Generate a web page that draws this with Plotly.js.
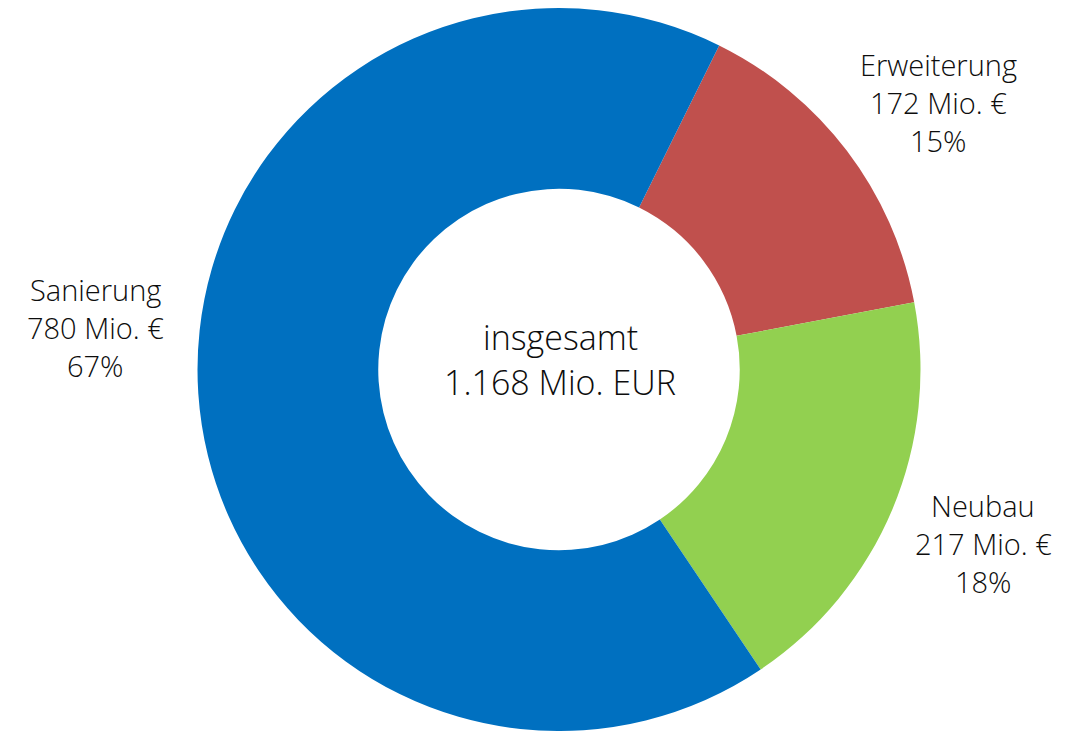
<!DOCTYPE html>
<html>
<head>
<meta charset="utf-8">
<script src="https://cdn.plot.ly/plotly-3.0.1.min.js"></script>
<style>html,body{margin:0;padding:0;background:#fff;}#chart{width:1068px;height:731px;}</style>
</head>
<body>
<div id="chart"></div>
<script>
const categories = ["Erweiterung", "Neubau", "Sanierung"];
const values = [172, 217, 780];
const valueLabels = ["172 Mio. €", "217 Mio. €", "780 Mio. €"];
const percentLabels = ["15%", "18%", "67%"];
const colors = ["#C0504D", "#92D050", "#0070C0"];
const centerLines = ["insgesamt", "1.168 Mio. EUR"];

const W = 1068, H = 731;
const FONT = "Open Sans, Noto Sans, sans-serif";
const px = x => x / W;
const py = y => 1 - y / H;

// label line positions (pixel centres) for each category
const labelPos = {
  "Erweiterung": {x: 938, ys: [64, 102, 140]},
  "Neubau": {x: 983, ys: [505, 543, 581]},
  "Sanierung": {x: 95, ys: [289, 327, 365]}
};

const annotations = [];
categories.forEach((c, i) => {
  const p = labelPos[c];
  [c, valueLabels[i], percentLabels[i]].forEach((t, k) => {
    annotations.push({
      text: t, xref: "paper", yref: "paper",
      x: px(p.x), y: py(p.ys[k]), xanchor: "center", yanchor: "middle",
      showarrow: false, borderpad: 0,
      font: {family: FONT, size: 29, weight: 300, color: "#0d0d0d"}
    });
  });
});
const centerYs = [337, 382];
centerLines.forEach((t, k) => {
  annotations.push({
    text: t, xref: "paper", yref: "paper",
    x: px(560), y: py(centerYs[k]), xanchor: "center", yanchor: "middle",
    showarrow: false, borderpad: 0,
    font: {family: FONT, size: 34, weight: 300, color: "#0d0d0d"}
  });
});

const trace = {
  type: "pie",
  labels: categories,
  values: values,
  hole: 0.5,
  sort: false,
  direction: "clockwise",
  rotation: 26.3,
  textinfo: "none",
  hoverinfo: "label+value+percent",
  marker: {colors: colors, line: {width: 0}},
  domain: {x: [197 / W, 921 / W], y: [0, 1 - 8 / H]}
};

const layout = {
  width: W, height: H,
  margin: {l: 0, r: 0, t: 0, b: 0},
  showlegend: false,
  paper_bgcolor: "#ffffff",
  annotations: annotations
};

Plotly.newPlot("chart", [trace], layout, {displayModeBar: false, staticPlot: true});
</script>
</body>
</html>
